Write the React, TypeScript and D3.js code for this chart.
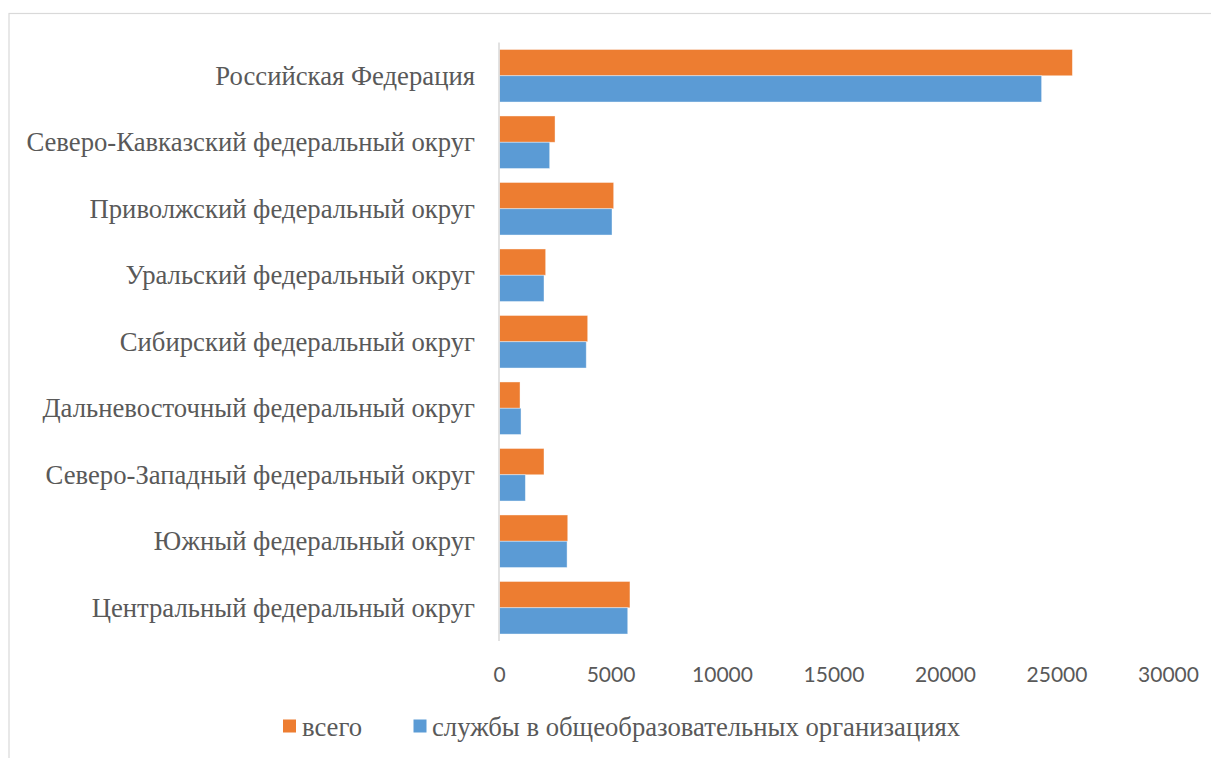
import React from "react";
import * as d3 from "d3";

const categories: string[] = [
  "Российская Федерация",
  "Северо-Кавказский федеральный округ",
  "Приволжский федеральный округ",
  "Уральский федеральный округ",
  "Сибирский федеральный округ",
  "Дальневосточный федеральный округ",
  "Северо-Западный федеральный округ",
  "Южный федеральный округ",
  "Центральный федеральный округ",
];

const seriesNames: string[] = ["всего", "службы в общеобразовательных организациях"];
const totalValues: number[] = [25690, 2490, 5120, 2070, 3955, 920, 1995, 3060, 5850];
const schoolValues: number[] = [24310, 2250, 5045, 1995, 3890, 965, 1160, 3030, 5750];
const xTicks: number[] = [0, 5000, 10000, 15000, 20000, 25000, 30000];
const colors: string[] = ["#ED7D31", "#5B9BD5"];

const W = 1211;
const H = 758;

export default function App() {
  const x = d3.scaleLinear().domain([0, 30000]).range([499.5, 1168.5]);
  const y = d3
    .scaleBand<string>()
    .domain(categories)
    .range([42.5, 641])
    .paddingInner(0.21)
    .paddingOuter(0.105);
  const sub = d3.scaleBand<number>().domain([0, 1]).range([0, y.bandwidth()]);
  const series = [totalValues, schoolValues];
  const serifStyle = { fontFamily: '"Liberation Serif", "DejaVu Serif", serif' };
  const textColor = "#595959";
  const fs = 26.7;

  return (
    <svg width={W} height={H} style={{ position: "absolute", left: 0, top: 0 }}>
      <rect x={0} y={0} width={W} height={H} fill="#fff" />
      <rect x={9} y={13.5} width={W + 20} height={H + 20} fill="#fff" stroke="#D9D9D9" strokeWidth={1.2} />
      {series.map((vals, si) =>
        categories.map((c, i) => (
          <rect
            key={`${si}-${i}`}
            x={x(0)}
            y={(y(c) as number) + (sub(si) as number)}
            width={x(vals[i]) - x(0)}
            height={sub.bandwidth()}
            fill={colors[si]}
            stroke="#fff"
            strokeOpacity={0.5}
            strokeWidth={0.8}
          />
        ))
      )}
      <line x1={x(0) - 0.5} x2={x(0) - 0.5} y1={42.5} y2={641} stroke="#D9D9D9" strokeWidth={1.5} />
      {categories.map((c) => (
        <text
          key={c}
          x={475}
          y={(y(c) as number) + y.bandwidth() / 2}
          textAnchor="end"
          dominantBaseline="central"
          style={serifStyle}
          fontSize={fs}
          fill={textColor}
        >
          {c}
        </text>
      ))}
      {xTicks.map((t) => (
        <text
          key={t}
          x={x(t)}
          y={673}
          textAnchor="middle"
          dominantBaseline="central"
          style={{ fontFamily: "Lato, sans-serif" }}
          fontSize={21}
          fill={textColor}
        >
          {t}
        </text>
      ))}
      <g>
        <rect x={283} y={719.5} width={13} height={13} fill={colors[0]} />
        <text x={302} y={727} dominantBaseline="central" style={serifStyle} fontSize={fs} fill={textColor}>
          {seriesNames[0]}
        </text>
        <rect x={413.5} y={719.5} width={13} height={13} fill={colors[1]} />
        <text x={432} y={727} dominantBaseline="central" style={serifStyle} fontSize={fs} fill={textColor}>
          {seriesNames[1]}
        </text>
      </g>
    </svg>
  );
}
